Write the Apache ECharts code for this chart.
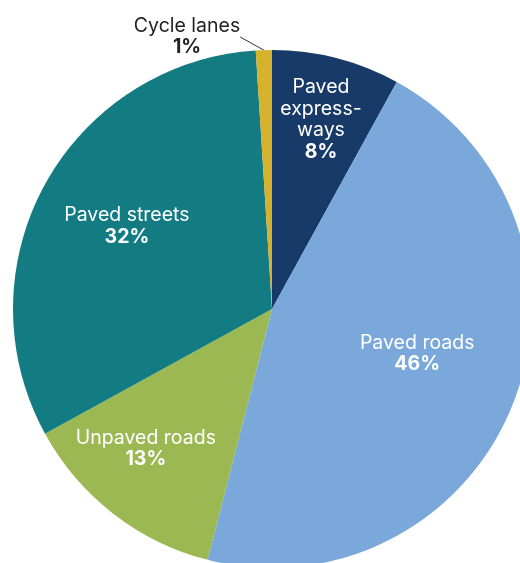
<!DOCTYPE html>
<html>
<head>
<meta charset="utf-8">
<script src="https://cdn.jsdelivr.net/npm/echarts@6/dist/echarts.min.js"></script>
<style>
  html, body { margin: 0; padding: 0; background: #ffffff; }
  #chart { width: 520px; height: 563px; }
</style>
</head>
<body>
<div id="chart"></div>
<script>
// Road network share by surface / road type
const categories = ['Paved\nexpress-\nways', 'Paved roads', 'Unpaved roads', 'Paved streets', 'Cycle lanes'];
const shares = [8, 46, 13, 32, 1];
const colors = ['#173a69', '#7aa8da', '#9cb852', '#137c83', '#d6b12b'];

// Per-slice nudges of the inside labels (pixels)
const labelShift = [[16, -61], [22, -4], [-45, 35], [-29, -19]];

const chart = echarts.init(document.getElementById('chart'), null, { renderer: 'canvas' });

const FONT = 19.5;

const data = categories.map((name, i) => {
  const item = { name: name, value: shares[i], itemStyle: { color: colors[i] } };
  if (i === categories.length - 1) {
    item.label = {
      position: 'outside',
      color: '#222222',
      formatter: p => '{n|' + p.name + '}\n{p|' + p.value + '%}',
      rich: {
        n: { fontSize: FONT, fontFamily: 'Inter', color: '#222222', lineHeight: 21, align: 'center' },
        p: { fontSize: FONT, fontFamily: 'Inter', fontWeight: 'bold', color: '#222222', lineHeight: 21, align: 'center' }
      }
    };
    item.labelLine = { show: true, length: 10, length2: 0, lineStyle: { color: '#333333', width: 1 } };
  }
  return item;
});

chart.setOption({
  backgroundColor: '#ffffff',
  animation: false,
  series: [{
    type: 'pie',
    center: [272, 309],
    radius: 259,
    startAngle: 90,
    clockwise: true,
    avoidLabelOverlap: false,
    itemStyle: { borderWidth: 0 },
    label: {
      show: true,
      position: 'inside',
      formatter: p => p.name.split('\n').map(s => '{n|' + s + '}').join('\n') + '\n{p|' + p.value + '%}',
      rich: {
        n: { fontSize: FONT, fontFamily: 'Inter', color: '#ffffff', lineHeight: 21.5, align: 'center' },
        p: { fontSize: FONT, fontFamily: 'Inter', fontWeight: 'bold', color: '#ffffff', lineHeight: 21.5, align: 'center' }
      }
    },
    labelLine: { show: false },
    labelLayout: function (params) {
      const i = params.dataIndex;
      if (i < labelShift.length) {
        return { dx: labelShift[i][0], dy: labelShift[i][1] };
      }
      // small outside label above the thin slice, offset to the upper left
      return { x: 187, y: 37, align: 'center', verticalAlign: 'middle' };
    },
    data: data
  }]
});
</script>
</body>
</html>
